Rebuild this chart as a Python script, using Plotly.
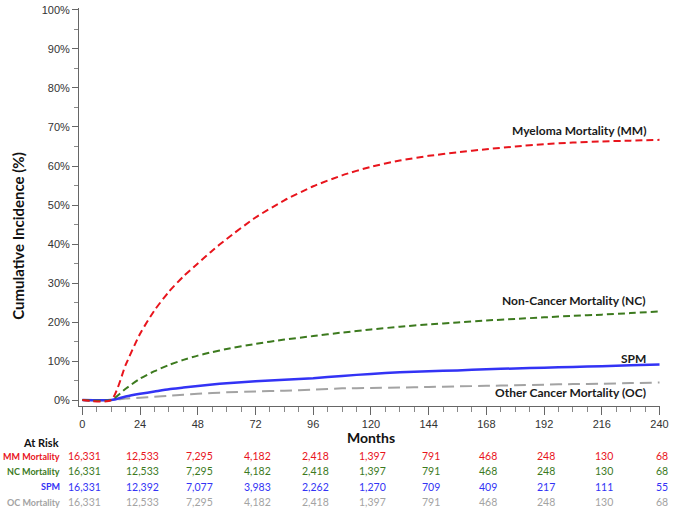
import plotly.graph_objects as go

months = [0, 12, 18, 24, 30, 36, 42, 48, 54, 60, 72, 84, 96, 108, 120, 132, 144, 156, 168, 180, 192, 204, 216, 228, 240]
mm = [0, 0, 9.0, 17.0, 23.0, 27.8, 31.7, 35.0, 38.3, 41.3, 46.8, 51.2, 54.8, 57.6, 59.8, 61.4, 62.6, 63.5, 64.3, 65.0, 65.6, 66.0, 66.3, 66.5, 66.7]
nc = [0, 0, 2.9, 5.5, 7.4, 9.0, 10.3, 11.4, 12.3, 13.1, 14.4, 15.5, 16.4, 17.3, 18.1, 18.8, 19.4, 19.9, 20.4, 20.8, 21.2, 21.6, 21.9, 22.3, 22.7]
spm = [0, 0, 0.9, 1.6, 2.2, 2.8, 3.2, 3.6, 4.0, 4.3, 4.8, 5.2, 5.6, 6.2, 6.7, 7.1, 7.4, 7.6, 7.9, 8.1, 8.3, 8.5, 8.7, 8.9, 9.1]
oc = [0, 0, 0.4, 0.6, 0.85, 1.1, 1.35, 1.6, 1.8, 2.0, 2.2, 2.4, 2.7, 3.0, 3.1, 3.2, 3.35, 3.5, 3.65, 3.8, 3.95, 4.1, 4.2, 4.35, 4.5]

risk_months = [0, 24, 48, 72, 96, 120, 144, 168, 192, 216, 240]
risk_mm = ["16,331", "12,533", "7,295", "4,182", "2,418", "1,397", "791", "468", "248", "130", "68"]
risk_nc = ["16,331", "12,533", "7,295", "4,182", "2,418", "1,397", "791", "468", "248", "130", "68"]
risk_spm = ["16,331", "12,392", "7,077", "3,983", "2,262", "1,270", "709", "409", "217", "111", "55"]
risk_oc = ["16,331", "12,533", "7,295", "4,182", "2,418", "1,397", "791", "468", "248", "130", "68"]
row_labels = ["MM Mortality", "NC Mortality", "SPM", "OC Mortality"]

RED = "#E8141C"
GREEN = "#3C7A1E"
BLUE = "#3333F5"
GRAY = "#A3A3A3"

fig = go.Figure()
fig.add_trace(go.Scatter(x=months, y=oc, mode="lines", line=dict(color=GRAY, width=2, dash="12px,6px", shape="spline", smoothing=0.6)))
fig.add_trace(go.Scatter(x=months, y=spm, mode="lines", line=dict(color=BLUE, width=2.5, shape="spline", smoothing=0.6)))
fig.add_trace(go.Scatter(x=months, y=nc, mode="lines", line=dict(color=GREEN, width=2, dash="7px,4px", shape="spline", smoothing=0.6)))
fig.add_trace(go.Scatter(x=months, y=mm, mode="lines", line=dict(color=RED, width=2, dash="7px,4px", shape="spline", smoothing=0.6)))

ann = []
lab_font = dict(family="Lato, Open Sans, sans-serif", size=12, color="#1a1a1a")
for txt, yv in [("<b>Myeloma Mortality (MM)</b>", 69.0), ("<b>Non-Cancer Mortality (NC)</b>", 25.4),
                ("<b>SPM</b>", 10.7), ("<b>Other Cancer Mortality (OC)</b>", 2.0)]:
    ann.append(dict(x=235, y=yv, xref="x", yref="y", text=txt, showarrow=False,
                    xanchor="right", yanchor="middle", font=lab_font))

ann.append(dict(x=120, y=-0.08, xref="x", yref="paper", text="<b>Months</b>", showarrow=False,
                xanchor="center", yanchor="middle", font=dict(family="Lato, sans-serif", size=14, color="#111")))
ann.append(dict(x=-0.105, y=0.4275, xref="paper", yref="paper", text="<b>Cumulative Incidence (%)</b>",
                showarrow=False, textangle=-90, xanchor="center", yanchor="middle",
                font=dict(family="Lato, sans-serif", size=15, color="#111")))
ann.append(dict(x=-0.031, y=-0.0925, xref="paper", yref="paper", text="<b>At Risk</b>", showarrow=False,
                xanchor="right", yanchor="middle", font=dict(family="Lato, sans-serif", size=11, color="#111")))

rows = [(risk_mm, RED), (risk_nc, GREEN), (risk_spm, BLUE), (risk_oc, GRAY)]
row_y = [-0.1268, -0.1643, -0.2033, -0.2418]
for (vals, col), lab, ry in zip(rows, row_labels, row_y):
    ann.append(dict(x=-0.029, y=ry, xref="paper", yref="paper", text="<b>" + lab + "</b>", showarrow=False,
                    xanchor="right", yanchor="middle", font=dict(family="Lato, sans-serif", size=9, color=col)))
    for m, v in zip(risk_months, vals):
        ann.append(dict(x=m, y=ry, xref="x", yref="paper", text=v, showarrow=False, xshift=2,
                        xanchor="center", yanchor="middle", font=dict(family="Lato, sans-serif", size=10.5, color=col)))

fig.update_layout(
    width=673, height=509,
    margin=dict(l=79, r=8, t=4, b=103),
    paper_bgcolor="white", plot_bgcolor="white",
    showlegend=False,
    annotations=ann,
    xaxis=dict(range=[-1.4, 240.2], tickvals=risk_months, ticks="outside", ticklen=8, tickcolor="#666",
               showline=True, linecolor="#666", linewidth=1, showgrid=False, zeroline=False,
               ticklabeloverflow="allow",
               tickfont=dict(family="Liberation Sans, Arial, sans-serif", size=11, color="#333"),
               minor=dict(dtick=6, tick0=0, ticks="outside", ticklen=5, tickcolor="#888", showgrid=False)),
    yaxis=dict(range=[-1.52, 100.5], tickvals=list(range(0, 101, 10)),
               ticktext=[f"{v}%" for v in range(0, 101, 10)],
               ticks="outside", ticklen=6, tickcolor="#666",
               showline=True, linecolor="#666", linewidth=1, showgrid=False, zeroline=False,
               ticklabeloverflow="allow",
               tickfont=dict(family="Liberation Sans, Arial, sans-serif", size=11, color="#333"),
               minor=dict(dtick=5, tick0=0, ticks="outside", ticklen=4, tickcolor="#888", showgrid=False)),
)

fig.write_html("out.html", config={"displayModeBar": False},
               post_script="document.body.style.margin='0';document.body.style.overflow='hidden';")
